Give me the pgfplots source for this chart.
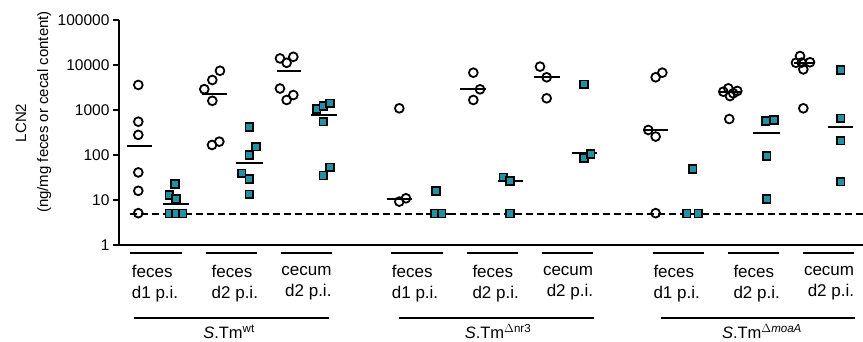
\documentclass[border=0pt]{standalone}
\usepackage{pgfplots}
\pgfplotsset{compat=1.18}
\usepackage{pgfplotstable}
\usepackage{fontspec}
\setmainfont{Liberation Sans}
\definecolor{tealbox}{RGB}{33,145,163}

% open circles (x position, LCN2)
\pgfplotstableread{
x y
-0.236 3600
-0.236 550
-0.236 280
-0.236 41
-0.236 16
-0.236 5.1
0.644 2900
0.751 4640
0.853 7450
0.751 1600
0.747 167
0.844 198
1.653 14000
1.831 15200
1.742 11200
1.653 3000
1.831 2150
1.742 1670
3.244 1090
3.244 9.2
3.333 10.9
4.231 6750
4.320 2880
4.231 1670
5.120 9200
5.209 5330
5.209 1820
6.662 5330
6.751 6750
6.564 360
6.662 257
6.662 5.1
7.564 2550
7.631 3030
7.697 2350
7.751 2650
7.653 2040
7.644 630
8.587 15800
8.533 11200
8.609 11300
8.720 11500
8.631 7980
8.631 1090
}\circles

% filled squares (x position, LCN2)
\pgfplotstableread{
x y
0.253 22.6
0.177 12.9
0.267 10.4
0.177 5
0.267 5
0.356 5
1.244 418
1.333 153
1.244 100
1.143 39
1.244 29
1.244 13.4
2.142 1040
2.231 1230
2.320 1400
2.231 550
2.320 53
2.231 35
3.733 16
3.720 5
3.809 5
4.631 32
4.720 26.5
4.720 5
5.707 3730
5.707 85
5.796 105
7.156 49
7.076 5
7.231 5
8.129 570
8.240 600
8.142 95
8.142 10.5
9.129 7740
9.129 655
9.129 208
9.129 25.5
}\squares

\begin{document}
\begin{tikzpicture}
\useasboundingbox (0,0) rectangle (863pt,342pt);
\begin{axis}[
  at={(119pt,97pt)}, anchor=south west,
  scale only axis, width=744pt, height=225pt,
  xmin=-0.4933, xmax=9.4267,
  ymode=log, ymin=1, ymax=100000,
  axis x line*=bottom, axis y line*=left,
  axis line style={line width=2pt, -},
  xtick=\empty,
  ytick={1,10,100,1000,10000,100000},
  yticklabels={1,10,100,1000,10000,100000},
  yminorticks=false,
  tick align=outside,
  major tick length=6pt,
  every tick/.style={black, line width=2pt},
  yticklabel style={font=\fontsize{15.5}{18}\selectfont},
  clip=false,
]
\addplot[black, line width=2pt, dash pattern=on 7pt off 4pt] coordinates {(-0.35,5) (9.427,5)};
\addplot[black, line width=2pt, unbounded coords=jump] coordinates {
(-0.39,158) (-0.05,158) (0,nan)
(0.098,8) (0.444,8) (0,nan)
(0.609,2300) (0.943,2300) (0,nan)
(1.067,67) (1.423,67) (0,nan)
(1.609,7300) (1.93,7300) (0,nan)
(2.062,770) (2.409,770) (0,nan)
(3.078,10.5) (3.411,10.5) (0,nan)
(3.6,5) (3.93,5) (0,nan)
(4.053,2880) (4.4,2880) (0,nan)
(4.564,26.5) (4.897,26.5) (0,nan)
(5.04,5330) (5.387,5330) (0,nan)
(5.543,109) (5.884,109) (0,nan)
(6.498,360) (6.831,360) (0,nan)
(6.98,5) (7.32,5) (0,nan)
(7.5,2550) (7.8,2550) (0,nan)
(7.964,314) (8.32,314) (0,nan)
(8.5,11200) (8.78,11200) (0,nan)
(8.956,425) (9.297,425)
};
\addplot[only marks, mark=square*, mark size=3.9pt, mark options={fill=tealbox, draw=black, line width=1.7pt}] table {\squares};
\addplot[only marks, mark=o, mark size=4.4pt, mark options={draw=black, line width=1.8pt}] table {\circles};
\end{axis}

% y axis label (two lines, rotated)
\begin{scope}[every node/.style={inner sep=0pt, rotate=90, anchor=base, font=\fontsize{15}{18}\selectfont}]
\node at (26pt,219pt) {LCN2};
\node at (48pt,230pt) {(ng/mg feces or cecal content)};
\end{scope}

% category brackets
\foreach \a/\b in {130/181.7, 205.7/257.3, 280.7/332.3, 391/443, 466.7/518.3, 541.7/593.3, 652.7/704, 727.7/779.3, 802.7/854.3}
  \draw[line width=1.8pt] (\a pt,89.3pt) -- (\b pt,89.3pt);

% category labels
\begin{scope}[every node/.style={inner sep=0pt, font=\fontsize{17}{21}\selectfont}]
\node[anchor=west, align=left] at (131.7pt,58.5pt) {feces\\d1 p.i.};
\node[anchor=west, align=left] at (211.5pt,58.5pt) {feces\\d2 p.i.};
\node[anchor=east, align=right] at (331.7pt,58.5pt) {cecum\\d2 p.i.};
\node[anchor=west, align=left] at (391.7pt,58.5pt) {feces\\d1 p.i.};
\node[anchor=west, align=left] at (472.3pt,58.5pt) {feces\\d2 p.i.};
\node[anchor=east, align=right] at (593.3pt,58.5pt) {cecum\\d2 p.i.};
\node[anchor=west, align=left] at (653.3pt,58.5pt) {feces\\d1 p.i.};
\node[anchor=west, align=left] at (733.3pt,58.5pt) {feces\\d2 p.i.};
\node[anchor=east, align=right] at (854.3pt,58.5pt) {cecum\\d2 p.i.};
\end{scope}

% group lines
\draw[line width=1.8pt] (134.3pt,23.7pt) -- (329pt,23.7pt);
\draw[line width=1.8pt] (399.3pt,23.7pt) -- (594pt,23.7pt);
\draw[line width=1.8pt] (660.7pt,23.7pt) -- (855pt,23.7pt);

% group labels
\begin{scope}[every node/.style={inner sep=0pt, anchor=base, font=\fontsize{16.5}{19}\selectfont}]
\node at (229pt,3pt) {\textit{S}.Tm\textsuperscript{wt}};
\node at (498pt,3pt) {\textit{S}.Tm\textsuperscript{$\Delta$nr3}};
\node at (762pt,3pt) {\textit{S}.Tm\textsuperscript{$\Delta$\textit{moaA}}};
\end{scope}
\end{tikzpicture}
\end{document}
